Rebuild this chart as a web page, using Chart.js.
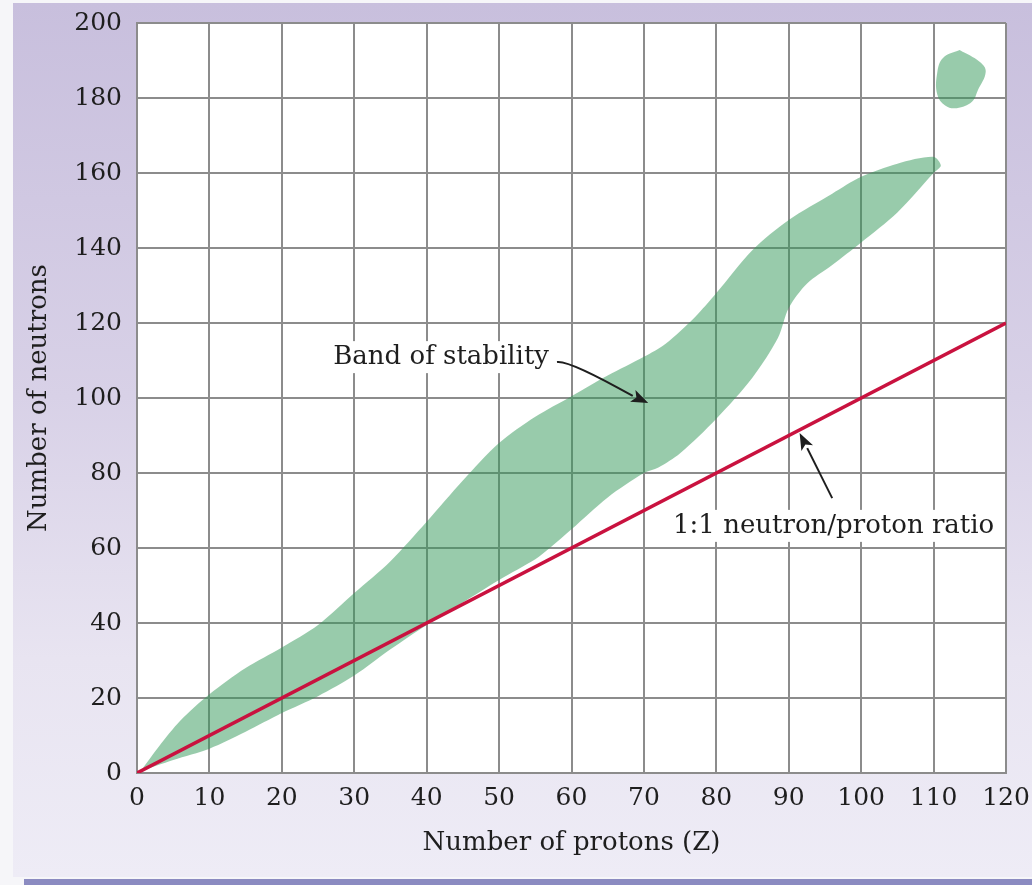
<!DOCTYPE html>
<html>
<head>
<meta charset="utf-8">
<script src="https://cdn.jsdelivr.net/npm/chart.js@4.4.1/dist/chart.umd.min.js"></script>
<style>
html, body { margin: 0; padding: 0; background: #f6f6f9; }
#wrap { position: relative; width: 1032px; height: 885px; overflow: hidden; }
#panel { position: absolute; left: 13px; top: 3px; width: 1019px; height: 874px;
  background: linear-gradient(#c8bfdd, #d8d1e7 45%, #e8e4f1 75%, #eeecf6); }
#strip { position: absolute; left: 24px; top: 879px; width: 1008px; height: 6px; background: #8b8bc1; }
canvas { position: absolute; left: 0; top: 0; }
</style>
</head>
<body>
<div id="wrap">
  <div id="panel"></div>
  <div id="strip"></div>
  <canvas id="chart" width="1032" height="885"></canvas>
</div>
<script>
// axis ranges
const xRange = [0, 120];
const yRange = [0, 200];
const xStep = 10;
const yStep = 20;

// 1:1 line
const ratioLine = [[0, 0], [120, 120]];

// band of stability: upper edge left->right, then lower edge right->left
const bandUpper = [[0.5, 0.5], [3, 7], [6, 14], [10, 21], [15, 28], [20, 33.5], [25, 39.5],
  [30, 48], [35, 56.5], [40, 67], [45, 78], [50, 88], [55, 95], [60, 100.5], [65, 106],
  [70, 111], [73, 114.5], [77, 121.5], [80, 128], [85, 139.5], [90, 147.5], [96, 154.5],
  [100, 159], [105, 162.5], [110, 164.3], [111, 162]];
const bandLower = [[110, 160], [105, 149.5], [100, 141.5], [96, 135.5], [92.5, 130.5],
  [90, 124], [88.5, 116], [85, 105.5], [80, 94.5], [75, 85.3], [72, 81.5], [70, 80],
  [65, 73.5], [60, 65], [57, 60], [55, 57], [50, 51.5], [45, 45.5], [40, 39.5], [35, 33],
  [30, 26], [25, 20.5], [20, 16], [15, 11], [10, 6.5], [5, 3.5], [0.5, 0.5]];

// superheavy island
const island = [[113.6, 192.8], [116.4, 189.6], [117.2, 187], [116.1, 182], [115.3, 179],
  [113.2, 177.3], [111.6, 178], [110.5, 181], [110.5, 186.7], [111.3, 190.7], [113.6, 192.8]];

// annotations
const noteTexts = ['Band of stability', '1:1 neutron/proton ratio'];
const noteAt = [[42, 110.9], [96.2, 65.9]];
const arrowFrom = [[58, 109.6], [96, 73.3]];
const arrowTo = [[70.6, 98.7], [91.5, 90.7]];

const toXY = pts => pts.map(p => ({ x: p[0], y: p[1] }));

const FONT = "'DejaVu Serif', serif";

const plotBackground = {
  id: 'plotBackground',
  beforeDraw(chart) {
    const { ctx, chartArea: a } = chart;
    ctx.save();
    ctx.fillStyle = '#ffffff';
    ctx.fillRect(a.left, a.top, a.right - a.left, a.bottom - a.top);
    ctx.restore();
  }
};

function drawArrow(ctx, x1, y1, x2, y2, curve) {
  const ang = Math.atan2(y2 - y1, x2 - x1);
  const len = 17, half = 6.5;
  const bx = x2 - len * Math.cos(ang), by = y2 - len * Math.sin(ang);
  ctx.beginPath();
  ctx.moveTo(x1, y1);
  if (curve) {
    ctx.quadraticCurveTo(x1 + 12, y1 - 2, bx, by);
  } else {
    ctx.lineTo(bx, by);
  }
  ctx.stroke();
  ctx.beginPath();
  ctx.moveTo(x2, y2);
  ctx.lineTo(bx + half * Math.sin(ang), by - half * Math.cos(ang));
  ctx.lineTo(bx + 4 * Math.cos(ang), by + 4 * Math.sin(ang));
  ctx.lineTo(bx - half * Math.sin(ang), by + half * Math.cos(ang));
  ctx.closePath();
  ctx.fill();
}

const notes = {
  id: 'notes',
  afterDatasetsDraw(chart) {
    const { ctx, scales: { x, y } } = chart;
    ctx.save();
    ctx.font = '26px ' + FONT;
    ctx.textAlign = 'center';
    ctx.textBaseline = 'middle';
    noteTexts.forEach((t, i) => {
      const px = x.getPixelForValue(noteAt[i][0]);
      const py = y.getPixelForValue(noteAt[i][1]);
      const w = ctx.measureText(t).width;
      ctx.fillStyle = '#ffffff';
      ctx.fillRect(px - w / 2 - 3, py - 16, w + 6, 32);
      ctx.fillStyle = '#1e1e1e';
      ctx.fillText(t, px, py);
    });
    ctx.strokeStyle = '#1e1e1e';
    ctx.fillStyle = '#1e1e1e';
    ctx.lineWidth = 2;
    arrowFrom.forEach((f, i) => {
      drawArrow(ctx,
        x.getPixelForValue(f[0]), y.getPixelForValue(f[1]),
        x.getPixelForValue(arrowTo[i][0]), y.getPixelForValue(arrowTo[i][1]),
        i === 0);
    });
    ctx.restore();
  }
};

new Chart(document.getElementById('chart'), {
  type: 'scatter',
  data: {
    datasets: [
      {
        label: '1:1 neutron/proton ratio',
        data: toXY(ratioLine),
        showLine: true,
        borderColor: '#c9123f',
        borderWidth: 3.5,
        pointRadius: 0,
        order: 0
      },
      {
        label: 'Band of stability',
        data: toXY(bandUpper.concat(bandLower)),
        showLine: true,
        fill: 'shape',
        backgroundColor: 'rgba(49, 151, 87, 0.5)',
        borderColor: 'rgba(0,0,0,0)',
        borderWidth: 0,
        tension: 0.3,
        pointRadius: 0,
        order: 1
      },
      {
        label: 'island',
        data: toXY(island),
        showLine: true,
        fill: 'shape',
        backgroundColor: 'rgba(49, 151, 87, 0.5)',
        borderColor: 'rgba(0,0,0,0)',
        borderWidth: 0,
        tension: 0.4,
        pointRadius: 0,
        order: 1
      }
    ]
  },
  options: {
    responsive: false,
    animation: false,
    devicePixelRatio: 1,
    layout: { padding: { left: 13, top: 23, right: 26, bottom: 0 } },
    plugins: {
      legend: { display: false },
      tooltip: { enabled: false }
    },
    scales: {
      x: {
        type: 'linear',
        min: xRange[0],
        max: xRange[1],
        afterFit: s => { s.height = 112; s.paddingLeft = 0; s.paddingRight = 0; },
        ticks: {
          stepSize: xStep,
          padding: 10,
          color: '#1e1e1e',
          font: { family: FONT, size: 25 }
        },
        grid: { color: '#8c8c8c', lineWidth: 2, drawTicks: false },
        border: { color: '#8c8c8c', width: 2 },
        title: {
          display: true,
          text: 'Number of protons (Z)',
          color: '#1e1e1e',
          font: { family: FONT, size: 26 },
          padding: { top: 0, bottom: 26 }
        }
      },
      y: {
        type: 'linear',
        min: yRange[0],
        max: yRange[1],
        afterFit: s => { s.width = 124; s.paddingTop = 0; s.paddingBottom = 0; },
        ticks: {
          stepSize: yStep,
          padding: 15,
          color: '#1e1e1e',
          font: { family: FONT, size: 25 }
        },
        grid: { color: '#8c8c8c', lineWidth: 2, drawTicks: false },
        border: { color: '#8c8c8c', width: 2 },
        title: {
          display: true,
          text: 'Number of neutrons',
          color: '#1e1e1e',
          font: { family: FONT, size: 26 },
          padding: { top: 11, bottom: 0 }
        }
      }
    }
  },
  plugins: [plotBackground, notes]
});
</script>
</body>
</html>
